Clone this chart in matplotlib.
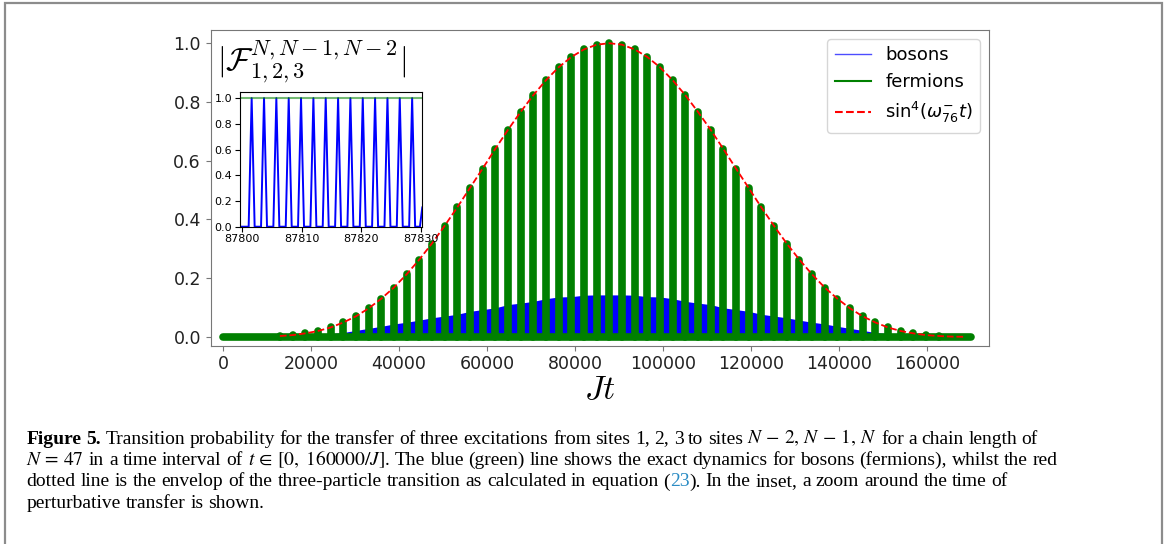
"""Figure 5: three-excitation transfer probability, bosons vs fermions, with inset."""
import matplotlib

matplotlib.use("Agg")
import matplotlib.pyplot as plt
from matplotlib.lines import Line2D
from matplotlib.patches import Rectangle

# times of the slow (fermion) transfer maxima and their heights
peak_t = [
    12920, 15800, 18680, 21560, 24440, 27320, 30200, 33080, 35960, 38840,
    41720, 44600, 47480, 50360, 53240, 56120, 59000, 61880, 64760, 67640,
    70520, 73400, 76280, 79160, 82040, 84920, 87800, 90680, 93560, 96440,
    99320, 102200, 105080, 107960, 110840, 113720, 116600, 119480, 122360, 125240,
    128120, 131000, 133880, 136760, 139640, 142520, 145400, 148280, 151160, 154040,
    156920, 159800, 162680, 165560, 168440,
]
fermion_peak = [
    0.003, 0.006, 0.012, 0.020, 0.032, 0.049, 0.070, 0.097, 0.130, 0.168,
    0.213, 0.263, 0.318, 0.378, 0.441, 0.507, 0.573, 0.640, 0.705, 0.766,
    0.823, 0.874, 0.918, 0.953, 0.979, 0.995, 1.000, 0.995, 0.979, 0.953,
    0.918, 0.874, 0.823, 0.766, 0.705, 0.640, 0.573, 0.507, 0.441, 0.378,
    0.318, 0.263, 0.213, 0.168, 0.130, 0.097, 0.070, 0.049, 0.032, 0.020,
    0.012, 0.006, 0.003, 0.001, 0.0003,
]
# height of the dense boson oscillation band seen between the fermion peaks
boson_band = [
    0.001, 0.002, 0.004, 0.007, 0.011, 0.015, 0.022, 0.029, 0.036, 0.044,
    0.050, 0.057, 0.065, 0.071, 0.077, 0.087, 0.093, 0.099, 0.110, 0.115,
    0.121, 0.130, 0.136, 0.137, 0.142, 0.143, 0.143, 0.143, 0.142, 0.137,
    0.136, 0.130, 0.121, 0.115, 0.110, 0.099, 0.093, 0.087, 0.077, 0.071,
    0.065, 0.057, 0.050, 0.044, 0.036, 0.029, 0.022, 0.015, 0.011, 0.007,
    0.004, 0.002, 0.001, 0.0, 0.0,
]
fermion_span_t = [0, 170000]
fermion_span = [0.0, 0.0]

# inset: zoom around t ~ 87800
inset_t = [
    87799.5, 87799.7,
    87801.15, 87801.65, 87802.15,
    87803.22, 87803.72, 87804.22,
    87805.28, 87805.78, 87806.28,
    87807.35, 87807.85, 87808.35,
    87809.41, 87809.91, 87810.41,
    87811.48, 87811.98, 87812.48,
    87813.54, 87814.04, 87814.54,
    87815.61, 87816.11, 87816.61,
    87817.67, 87818.17, 87818.67,
    87819.74, 87820.24, 87820.74,
    87821.80, 87822.30, 87822.80,
    87823.87, 87824.37, 87824.87,
    87825.93, 87826.43, 87826.93,
    87828.00, 87828.50, 87829.00,
    87829.8, 87830.2,
]
inset_bosons = [0.12, 0.0] + [0.0, 1.0, 0.0] * 14 + [0.0, 0.15]
inset_fermion_t = [87799.5, 87830.2]
inset_fermions = [1.0, 1.0]

x_ticks = [0, 20000, 40000, 60000, 80000, 100000, 120000, 140000, 160000]
y_ticks = [0.0, 0.2, 0.4, 0.6, 0.8, 1.0]
inset_x_ticks = [87800, 87810, 87820, 87830]

caption_lines = [
    [("Figure 5.", "bold", "black"),
     (" Transition probability for the transfer of three excitations from sites 1, 2, 3 "
      r"to sites $N\,-\,2,\,N\,-\,1,\,N$ for a chain length of", "normal", "black")],
    [(r"$N\,=\,47$ in a time interval of $t\,\in\,[0,\ 160000/J]$. The blue (green) line "
      "shows the exact dynamics for bosons (fermions), whilst the red", "normal", "black")],
    [("dotted line is the envelop of the three-particle transition as calculated in equation (",
      "normal", "black"),
     ("23", "normal", "#2b8cc4"),
     ("). In the inset, a zoom around the time of", "normal", "black")],
    [("perturbative transfer is shown.", "normal", "black")],
]
caption_right = [1038, 1058, 1008, None]
caption_base = [443.5, 465, 486.5, 508]
caption_size = 14


def split_words(s):
    words, cur, inmath = [], "", False
    for ch in s:
        if ch == "$":
            inmath = not inmath
        if ch == " " and not inmath:
            words.append(cur)
            cur = ""
        else:
            cur += ch
    words.append(cur)
    return words


W, H = 1165, 544
fig = plt.figure(figsize=(W / 100, H / 100), dpi=100)

# outer frame of the figure box
fig.patches.append(Rectangle((5 / W, -0.1), 1157 / W, 1.1 - 3 / H, transform=fig.transFigure,
                             fill=False, edgecolor="#8c8c8c", lw=1.6))

ax = fig.add_axes([210.7 / W, 1 - 345.7 / H, 778.3 / W, 315.7 / H])
ax.fill_between(peak_t, 0, boson_band, color="blue", lw=0, zorder=2)
green = ax.vlines(peak_t, 0, fermion_peak, color="green", lw=5.5, zorder=3)
green.set_capstyle("round")
ax.plot(fermion_span_t, fermion_span, color="green", lw=5.5, solid_capstyle="round", zorder=3)
ax.plot(peak_t, fermion_peak, color="red", ls="--", lw=1.3, zorder=4)

ax.set_xlim(-2800, 174100)
ax.set_ylim(-0.03, 1.045)
ax.set_xticks(x_ticks)
ax.set_yticks(y_ticks)
ax.tick_params(labelsize=12.5, color="#777777", labelcolor="#222222")
for s in ax.spines.values():
    s.set_color("#777777")
ax.set_xlabel(r"$Jt$", fontsize=24, math_fontfamily="cm", labelpad=0)
ax.text(0.008, 0.975, r"$|\mathcal{F}^{N,N-1,N-2}_{1,2,3}|$", transform=ax.transAxes,
        fontsize=23, va="top", ha="left", math_fontfamily="cm")

handles = [
    Line2D([], [], color="blue", lw=1, alpha=0.7),
    Line2D([], [], color="green", lw=1.5),
    Line2D([], [], color="red", lw=1.5, ls="--"),
]
ax.legend(handles, ["bosons", "fermions", r"sin$^4(\omega^{-}_{76}t)$"],
          loc="upper right", fontsize=13)

ins = fig.add_axes([240 / W, 1 - 226.7 / H, 181.7 / W, 135 / H])
ins.plot(inset_t, inset_bosons, color="blue", lw=1.4)
ins.plot(inset_fermion_t, inset_fermions, color="green", lw=1.5, alpha=0.55)
ins.set_xlim(87799.7, 87830.1)
ins.set_ylim(0, 1.05)
ins.set_xticks(inset_x_ticks)
ins.set_yticks(y_ticks)
ins.tick_params(labelsize=8, pad=2)

# caption: words placed one by one so each line ends where it does in the paper
renderer = fig.canvas.get_renderer()
x_left = 26.5
natural_space = caption_size * 100 / 72 * 0.25
for parts, right, yb in zip(caption_lines, caption_right, caption_base):
    tokens = []
    for text, weight, color in parts:
        for i, w in enumerate(split_words(text)):
            if w:
                tokens.append((w, weight, color, i > 0))
    texts, widths = [], []
    for w, weight, color, gap in tokens:
        t = fig.text(0, 1 - yb / H, w, fontsize=caption_size, family="Liberation Serif",
                     weight=weight, color=color, va="baseline", ha="left",
                     math_fontfamily="stix")
        texts.append(t)
        widths.append(t.get_window_extent(renderer).width)
    n_gaps = sum(1 for tok in tokens if tok[3])
    space = natural_space
    if right is not None:
        space = max(0.6 * natural_space, (right - x_left - sum(widths)) / n_gaps)
    x = x_left
    for t, wd, tok in zip(texts, widths, tokens):
        if tok[3]:
            x += space
        t.set_x(x / W)
        x += wd

fig.savefig("out.png", dpi=100)
